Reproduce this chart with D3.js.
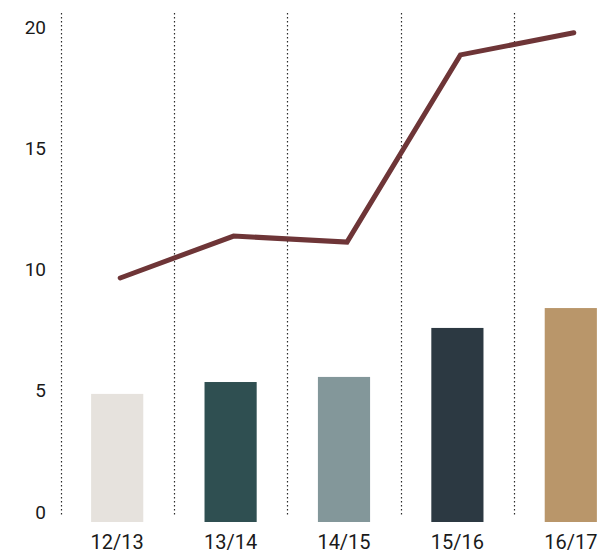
<!DOCTYPE html>
<html>
<head>
<meta charset="utf-8">
<script src="https://cdn.jsdelivr.net/npm/d3@7"></script>
<style>
  html, body { margin: 0; padding: 0; background: #fff; }
  svg { display: block; }
  text { font-family: Roboto, "DejaVu Sans Condensed", sans-serif; fill: #1a1a1a; }
</style>
</head>
<body>
<svg id="chart" width="615" height="554"></svg>
<script>
const categories = ["12/13", "13/14", "14/15", "15/16", "16/17"];
const barValues = [4.87, 5.36, 5.57, 7.59, 8.41];
const lineValues = [9.65, 11.38, 11.13, 18.85, 19.76];
const barColors = ["#e6e2dd", "#2f4f51", "#83979a", "#2c3942", "#b9966a"];
const yTicks = [0, 5, 10, 15, 20];

const svg = d3.select("#chart");

const x = d3.scaleBand().domain(categories).range([60.5, 627.5]).padding(0);
const y = d3.scaleLinear().domain([0, 20]).range([512, 27]);
const plotBottom = 522, plotTop = 13;

// dotted vertical gridlines at band starts
svg.append("g").selectAll("line").data(categories).join("line")
  .attr("x1", d => Math.round(x(d)) + 0.5)
  .attr("x2", d => Math.round(x(d)) + 0.5)
  .attr("y1", plotTop)
  .attr("y2", 517)
  .attr("stroke", "#2a2a2a")
  .attr("stroke-width", 1.2)
  .attr("stroke-dasharray", "1.5,2.5");

// bars
const barW = x.bandwidth() * 0.46;
svg.append("g").selectAll("rect").data(categories).join("rect")
  .attr("x", d => x(d) + (x.bandwidth() - barW) / 2)
  .attr("y", (d, i) => y(barValues[i]))
  .attr("width", barW)
  .attr("height", (d, i) => plotBottom - y(barValues[i]))
  .attr("fill", (d, i) => barColors[i]);

// line
const line = d3.line()
  .x((d, i) => x(categories[i]) + x.bandwidth() / 2 + 3)
  .y(d => y(d));
svg.append("path")
  .datum(lineValues)
  .attr("d", line)
  .attr("fill", "none")
  .attr("stroke", "#6e3537")
  .attr("stroke-width", 5)
  .attr("stroke-linejoin", "miter")
  .attr("stroke-linecap", "round");

// y axis labels
const yAxis = d3.axisLeft(y).tickValues(yTicks).tickSize(0).tickPadding(0);
const gy = svg.append("g").attr("transform", "translate(46,0)").call(yAxis);
gy.select(".domain").remove();
gy.selectAll("text").style("font-size", "19px")
  .style("font-family", "Roboto, sans-serif").attr("fill", "#1a1a1a");

// x axis labels
const xAxis = d3.axisBottom(x).tickSize(0).tickPadding(0);
const gx = svg.append("g").attr("transform", "translate(0,535)").call(xAxis);
gx.select(".domain").remove();
gx.selectAll("text").style("font-size", "20px")
  .style("font-family", "Roboto, sans-serif").attr("fill", "#1a1a1a");
</script>
</body>
</html>
